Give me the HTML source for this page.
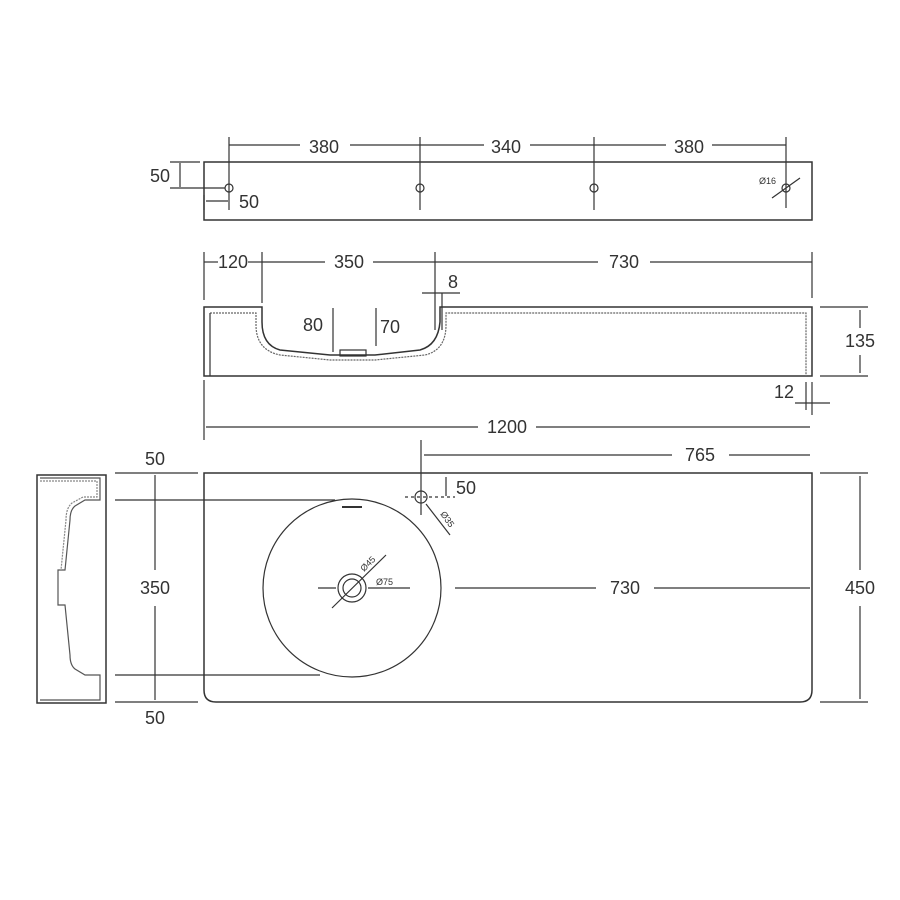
<!DOCTYPE html>
<html><head><style>body{margin:0;background:#fff}svg{display:block}text{font-family:"Liberation Sans",sans-serif;fill:#333}</style></head><body>
<svg width="900" height="900" viewBox="0 0 900 900" xmlns="http://www.w3.org/2000/svg">
<defs><marker id="a" viewBox="0 0 10 10" refX="10" refY="5" markerWidth="5" markerHeight="5" orient="auto-start-reverse"><path d="M0,1L10,5L0,9z" fill="#333"/></marker></defs>
<g stroke="#333" fill="none" stroke-width="1.2">
<!-- top view -->
<rect x="204" y="162" width="608" height="58" stroke-width="1.5"/>
<circle cx="229" cy="188" r="4"/><circle cx="420" cy="188" r="4"/><circle cx="594" cy="188" r="4"/><circle cx="786" cy="188" r="4"/>
<line x1="229" y1="137" x2="229" y2="210"/><line x1="420" y1="137" x2="420" y2="210"/><line x1="594" y1="137" x2="594" y2="210"/><line x1="786" y1="137" x2="786" y2="208"/>
<line x1="229" y1="145" x2="300" y2="145"/><line x1="350" y1="145" x2="420" y2="145"/><line x1="420" y1="145" x2="484" y2="145"/><line x1="530" y1="145" x2="594" y2="145"/><line x1="594" y1="145" x2="666" y2="145"/><line x1="712" y1="145" x2="786" y2="145"/>
<line x1="170" y1="162" x2="200" y2="162"/><line x1="170" y1="188" x2="225" y2="188"/><line x1="180" y1="163" x2="180" y2="187"/>
<line x1="204" y1="195" x2="204" y2="210"/><line x1="206" y1="201" x2="228" y2="201"/>
<line x1="772" y1="198" x2="800" y2="178"/>
<!-- section view -->
<path d="M204,307H262V322Q262,345 280,350L330,355H375L420,350Q438,345 440,322V307H812V376H204Z" stroke-width="1.5"/>
<path d="M210,313H256V325Q256,350 280,355L330,360H375L425,355Q446,350 446,325V313H806V376" stroke="#666" stroke-dasharray="2 1"/>
<line x1="210" y1="313" x2="210" y2="376"/>
<rect x="340" y="350" width="26" height="6"/>
<line x1="204" y1="252" x2="204" y2="300"/><line x1="262" y1="252" x2="262" y2="303"/><line x1="435" y1="252" x2="435" y2="330"/><line x1="812" y1="252" x2="812" y2="298"/>
<line x1="204" y1="262" x2="218" y2="262"/><line x1="248" y1="262" x2="262" y2="262"/><line x1="262" y1="262" x2="325" y2="262"/><line x1="373" y1="262" x2="435" y2="262"/><line x1="435" y1="262" x2="598" y2="262"/><line x1="650" y1="262" x2="812" y2="262"/>
<line x1="422" y1="293" x2="460" y2="293"/><line x1="442" y1="293" x2="442" y2="330"/>
<line x1="333" y1="308" x2="333" y2="352"/><line x1="376" y1="308" x2="376" y2="346"/>
<line x1="820" y1="307" x2="868" y2="307"/><line x1="820" y1="376" x2="868" y2="376"/><line x1="860" y1="310" x2="860" y2="328"/><line x1="860" y1="355" x2="860" y2="373"/>
<line x1="806" y1="382" x2="806" y2="410"/><line x1="812" y1="382" x2="812" y2="415"/><line x1="795" y1="403" x2="830" y2="403"/>
<line x1="204" y1="380" x2="204" y2="440"/>
<line x1="206" y1="427" x2="478" y2="427"/><line x1="536" y1="427" x2="810" y2="427"/>
<!-- plan view -->
<path d="M204,473H812V690Q812,702 800,702H216Q204,702 204,690Z" stroke-width="1.5"/>
<circle cx="352" cy="588" r="89"/>
<line x1="342" y1="507" x2="362" y2="507" stroke-width="2"/>
<circle cx="352" cy="588" r="14"/><circle cx="352" cy="588" r="9"/>
<line x1="332" y1="608" x2="386" y2="555"/>
<line x1="318" y1="588" x2="336" y2="588"/><line x1="368" y1="588" x2="410" y2="588"/>
<circle cx="421" cy="497" r="6"/>
<line x1="421" y1="440" x2="421" y2="515"/>
<line x1="405" y1="497" x2="455" y2="497" stroke-dasharray="3 3"/>
<line x1="426" y1="504" x2="450" y2="535"/>
<line x1="446" y1="477" x2="446" y2="496"/>
<line x1="424" y1="455" x2="672" y2="455"/><line x1="729" y1="455" x2="810" y2="455"/>
<line x1="455" y1="588" x2="596" y2="588"/><line x1="654" y1="588" x2="810" y2="588"/>
<line x1="820" y1="473" x2="868" y2="473"/><line x1="820" y1="702" x2="868" y2="702"/>
<line x1="860" y1="476" x2="860" y2="570"/><line x1="860" y1="606" x2="860" y2="699"/>
<line x1="115" y1="473" x2="198" y2="473"/><line x1="115" y1="500" x2="335" y2="500"/><line x1="115" y1="675" x2="320" y2="675"/><line x1="115" y1="702" x2="198" y2="702"/>
<line x1="155" y1="475" x2="155" y2="570"/><line x1="155" y1="606" x2="155" y2="700"/>
<!-- end view -->
<rect x="37" y="475" width="69" height="228" stroke-width="1.5"/>
<path d="M40,478H100V500H85L75,506Q70,510 70,520L65,570H58V605H65L70,655Q70,665 75,669L85,675H100V700H40" stroke="#555"/>
<path d="M40,481H97V497H83L72,503Q66,508 66,520L61,570" stroke="#888" stroke-dasharray="2 1"/>
</g>
<g font-size="18" text-anchor="middle">
<text x="324" y="153">380</text><text x="506" y="153">340</text><text x="689" y="153">380</text>
<text x="160" y="182">50</text><text x="249" y="208">50</text>
<text x="233" y="268">120</text><text x="349" y="268">350</text><text x="624" y="268">730</text>
<text x="453" y="288">8</text><text x="313" y="331">80</text><text x="390" y="333">70</text>
<text x="860" y="347">135</text><text x="784" y="398">12</text><text x="507" y="433">1200</text>
<text x="700" y="461">765</text><text x="466" y="494">50</text><text x="625" y="594">730</text>
<text x="860" y="594">450</text><text x="155" y="594">350</text>
<text x="155" y="465">50</text><text x="155" y="724">50</text>
</g>
<g font-size="9" fill="#444">
<text x="759" y="184">Ø16</text><text x="376" y="585">Ø75</text>
<text x="0" y="0" transform="translate(364,572) rotate(-45)">Ø45</text>
<text x="0" y="0" transform="translate(440,514) rotate(55)">Ø35</text>
</g>
</svg>
</body></html>
